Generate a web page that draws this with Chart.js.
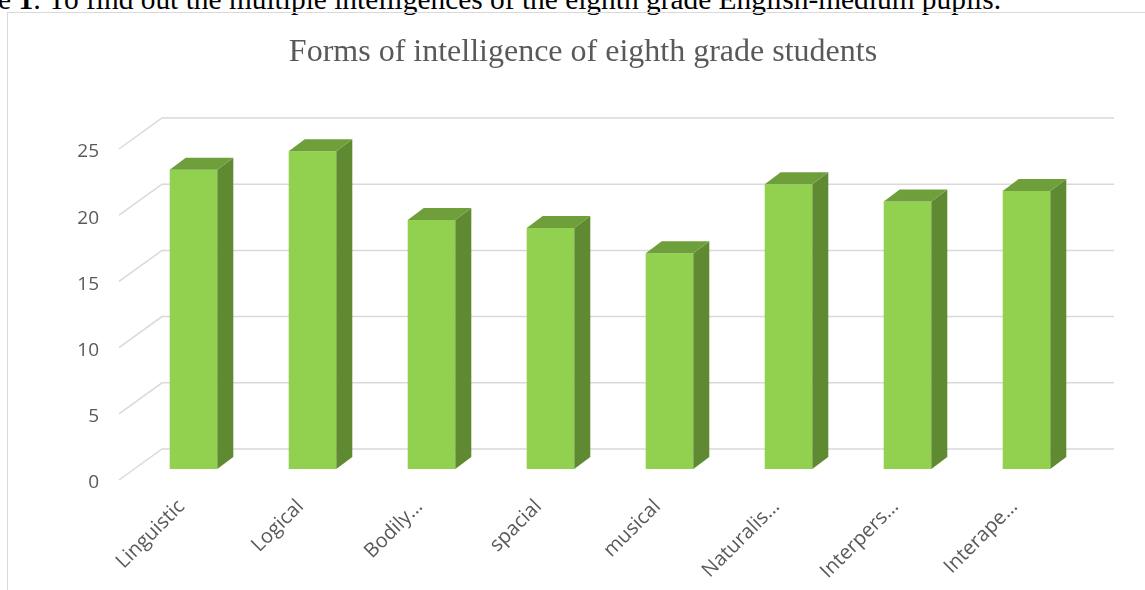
<!DOCTYPE html>
<html>
<head>
<meta charset="utf-8">
<script src="https://cdn.jsdelivr.net/npm/chart.js@4.4.0/dist/chart.umd.min.js"></script>
<style>
  html, body { margin: 0; padding: 0; background: #fff; overflow: hidden; }
  #caption {
    position: absolute; left: -2px; top: -15px; white-space: nowrap;
    font-family: "Liberation Serif", "Times New Roman", serif; font-size: 29.4px; line-height: 29px; color: #000;
  }
  #frame {
    position: absolute; left: 7px; top: 12px; width: 1200px; height: 700px;
    border-left: 1px solid #d9d9d9; border-top: 1px solid #d9d9d9;
  }
  #wrap { position: absolute; left: 0; top: 0; width: 1145px; height: 590px; }
</style>
</head>
<body>
<div id="caption">e <b>1</b>: To find out the multiple intelligences of the eighth grade English-medium pupils.</div>
<div id="frame"></div>
<div id="wrap"><canvas id="chart"></canvas></div>
<script>
var categories = ["Linguistic", "Logical", "Bodily…", "spacial", "musical", "Naturalis…", "Interpers…", "Interape…"];
var scores = [22.6, 24, 18.8, 18.2, 16.3, 21.5, 20.2, 21.0];
var yTicks = [0, 5, 10, 15, 20, 25];

// depth offsets of the 3d look (bar front plane is the chart area)
var frontDx = -15, frontDy = 11;
var backDx = 28, backDy = -20;
var barDx = 16, barDy = -12;

var fake3d = {
  id: 'fake3d',
  beforeDatasetsDraw: function (chart) {
    var ctx = chart.ctx, area = chart.chartArea, y = chart.scales.y;
    ctx.save();
    ctx.strokeStyle = '#d9d9d9';
    ctx.lineWidth = 1.5;
    yTicks.forEach(function (v) {
      var py = y.getPixelForValue(v);
      ctx.beginPath();
      ctx.moveTo(area.left + frontDx, py + frontDy);
      ctx.lineTo(area.left + backDx, py + backDy);
      ctx.lineTo(area.right + backDx, py + backDy);
      ctx.stroke();
    });
    ctx.restore();
  },
  afterDatasetsDraw: function (chart) {
    var ctx = chart.ctx;
    var meta = chart.getDatasetMeta(0);
    ctx.save();
    meta.data.forEach(function (bar) {
      var p = bar.getProps(['x', 'y', 'base', 'width'], true);
      var l = p.x - p.width / 2, r = p.x + p.width / 2;
      // side face
      ctx.fillStyle = '#5f8a32';
      ctx.beginPath();
      ctx.moveTo(r, p.y);
      ctx.lineTo(r + barDx, p.y + barDy);
      ctx.lineTo(r + barDx, p.base + barDy);
      ctx.lineTo(r, p.base);
      ctx.closePath();
      ctx.fill();
      // top face
      ctx.fillStyle = '#6f9f3b';
      ctx.beginPath();
      ctx.moveTo(l, p.y);
      ctx.lineTo(l + barDx, p.y + barDy);
      ctx.lineTo(r + barDx, p.y + barDy);
      ctx.lineTo(r, p.y);
      ctx.closePath();
      ctx.fill();
    });
    ctx.restore();
  }
};

new Chart(document.getElementById('chart'), {
  type: 'bar',
  data: {
    labels: categories,
    datasets: [{
      data: scores,
      backgroundColor: '#92d050',
      borderWidth: 0,
      barPercentage: 0.4,
      categoryPercentage: 1
    }]
  },
  options: {
    responsive: true,
    maintainAspectRatio: false,
    animation: false,
    layout: { padding: { left: 60, right: 39, top: 0, bottom: 0 } },
    plugins: {
      legend: { display: false },
      tooltip: { enabled: false },
      title: {
        display: true,
        text: 'Forms of intelligence of eighth grade students',
        color: '#595959',
        font: { family: '"Liberation Serif", "Times New Roman", serif', size: 32, weight: 'normal' },
        padding: { top: 33, bottom: 66.6 }
      }
    },
    scales: {
      x: {
        grid: { display: false },
        border: { display: false },
        ticks: {
          autoSkip: false,
          minRotation: 45,
          maxRotation: 45,
          padding: 18,
          labelOffset: -12,
          color: '#595959',
          font: { family: '"Open Sans", sans-serif', size: 20 }
        },
        afterFit: function (scale) { scale.height = 121; }
      },
      y: {
        min: 0,
        max: 25,
        grid: { display: false },
        border: { display: false },
        ticks: {
          stepSize: 5,
          padding: 27,
          labelOffset: 14,
          color: '#595959',
          font: { family: '"Open Sans", sans-serif', size: 19 }
        },
        afterFit: function (scale) { scale.width = 74; }
      },
      yRight: {
        position: 'right',
        grid: { display: false },
        border: { display: false },
        ticks: { display: false },
        afterFit: function (scale) { scale.width = 20; }
      }
    }
  },
  plugins: [fake3d]
});
</script>
</body>
</html>
